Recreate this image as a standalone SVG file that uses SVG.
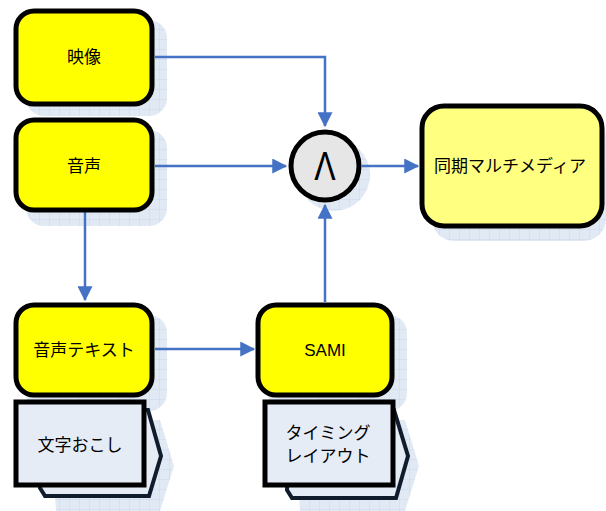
<svg xmlns="http://www.w3.org/2000/svg" width="606" height="511" viewBox="0 0 606 511">
<defs>
<pattern id="grid" width="10" height="10" patternUnits="userSpaceOnUse">
<rect width="10" height="10" fill="#DCE6F2"/>
<path d="M10 0V10M0 10H10" stroke="#B7CBE6" stroke-width="0.8" fill="none"/>
</pattern>
<marker id="arr" viewBox="0 0 12 12" refX="11" refY="6" markerWidth="6" markerHeight="6" orient="auto" markerUnits="strokeWidth">
<path d="M0 0L12 6L0 12Z" fill="#4472C4"/>
</marker>
</defs>
<style>
.sh{fill:url(#grid);opacity:0.85}
.box{fill:#FFFF00;stroke:#000;stroke-width:5}
.sync{fill:#FFFF80;stroke:#000;stroke-width:5}
.doc{fill:#E6ECF6;stroke:#000;stroke-width:5}
.back{fill:#E6ECF6;stroke:#101C2C;stroke-width:4;stroke-linejoin:miter}
.circ{fill:#E6E6E6;stroke:#000;stroke-width:5}
.lbl{font-family:"Liberation Sans","Noto Sans CJK JP",sans-serif;font-size:17px;fill:#000;text-anchor:middle;dominant-baseline:central}
.con{stroke:#4472C4;stroke-width:2.5;fill:none}
</style>

<!-- shadows -->
<g id="shadows">
<rect class="sh" x="26" y="20" width="141" height="96" rx="18"/>
<rect class="sh" x="26" y="130" width="141" height="96" rx="18"/>
<rect class="sh" x="26" y="315" width="141" height="96" rx="18"/>
<rect class="sh" x="268" y="315" width="139" height="96" rx="18"/>
<rect class="sh" x="432" y="116" width="174" height="125" rx="22"/>
<circle class="sh" cx="334" cy="175" r="36"/>
<polygon class="sh" points="50,420 160,420 174,466 160,511 56,511"/>
<polygon class="sh" points="296,420 405,420 419,466 405,511 300,511"/>
</g>

<g id="connectors">
<path class="con" d="M155 57H325V126" marker-end="url(#arr)"/>
<path class="con" d="M155 166H286" marker-end="url(#arr)"/>
<path class="con" d="M362 166H418" marker-end="url(#arr)"/>
<path class="con" d="M85 212V300" marker-end="url(#arr)"/>
<path class="con" d="M155 349H254" marker-end="url(#arr)"/>
<path class="con" d="M325 302V205" marker-end="url(#arr)"/>
</g>

<g id="eizo">
<rect class="box" x="16" y="11" width="136" height="93" rx="18"/>
<text class="lbl" x="84" y="57">映像</text>
</g>
<g id="onsei">
<rect class="box" x="16" y="120" width="136" height="90" rx="18"/>
<text class="lbl" x="84" y="166">音声</text>
</g>
<g id="onsei-text">
<rect class="box" x="16" y="305" width="136" height="90" rx="18"/>
<text class="lbl" x="84" y="350">音声テキスト</text>
</g>
<g id="sami">
<rect class="box" x="258" y="305" width="134" height="90" rx="18"/>
<text class="lbl" x="325" y="350">SAMI</text>
</g>
<g id="and">
<circle class="circ" cx="325" cy="166" r="34"/>
<text transform="translate(325 180) scale(0.8 1)" style="font-family:'Liberation Sans',sans-serif;font-size:40px;text-anchor:middle;fill:#000">Λ</text>
</g>
<g id="sync">
<rect class="sync" x="422" y="106" width="180" height="120" rx="22"/>
<text class="lbl" x="510" y="166">同期マルチメディア</text>
</g>
<g id="mojiokoshi">
<polygon class="back" points="40,410 148,410 161,456 149,496 45,496 40,488"/>
<rect class="doc" x="16" y="402" width="128" height="83"/>
<text class="lbl" x="80" y="445">文字おこし</text>
</g>
<g id="timing">
<polygon class="back" points="290,410 394,410 408,456 396,498 292,498 287,490"/>
<rect class="doc" x="265" y="402" width="128" height="83"/>
<text class="lbl" x="328" y="433">タイミング</text>
<text class="lbl" x="328" y="456">レイアウト</text>
</g>
</svg>
